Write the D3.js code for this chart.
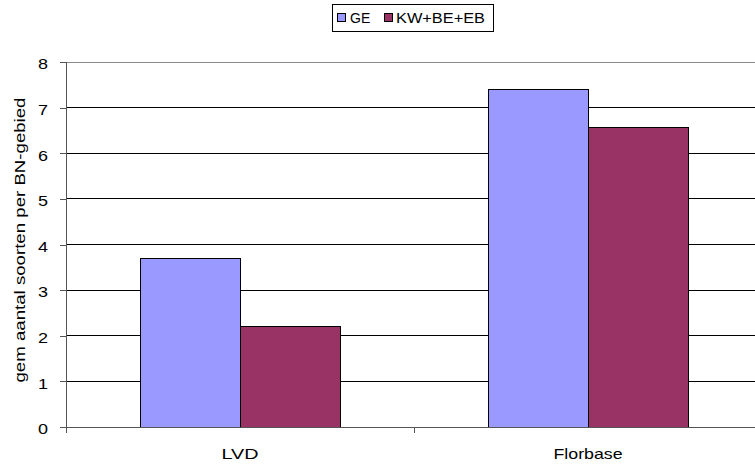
<html>
<script src='https://d3js.org/d3.v7.min.js'></script>
<style>
body {margin:0; background:#fff;}
text {font-family: "Liberation Sans", Arial, sans-serif; fill:#000;}
</style>
<body onload='init()'>
<svg width=755 height=465></svg>
<script>
// chart data
const categories = ["LVD", "Florbase"];
const seriesNames = ["GE", "KW+BE+EB"];
const geValues = [3.7, 7.4];
const kwValues = [2.2, 6.56];
const yTicks = [0, 1, 2, 3, 4, 5, 6, 7, 8];
const yLabel = "gem aantal soorten per BN-gebied";

function init() {
const svg = d3.select("svg");
const colors = d3.scaleOrdinal().domain(seriesNames).range(["#9999ff", "#993366"]);

// x scale for categories, inner scale for the two series
var x = d3.scaleBand().domain(categories).range([66, 762]);
var xs = d3.scaleBand().domain(seriesNames).range([140, 340]);
// y scale
var y = d3.scaleLinear().domain([0, 8]).range([427, 62]);

// gridlines
svg.append("g")
  .selectAll("line")
  .data(yTicks.slice(1))
  .enter()
  .append("line")
    .attr("x1", 66).attr("x2", 755)
    .attr("y1", d => y(d)).attr("y2", d => y(d))
    .attr("stroke", d => d == 8 ? "#888" : "#000")
    .attr("stroke-width", 1)
    .attr("shape-rendering", "crispEdges");

// bars
const rows = categories.map((c, i) => ({cat: c, vals: [geValues[i], kwValues[i]]}));
svg.append("g")
  .selectAll("g")
  .data(rows)
  .enter()
  .append("g")
    .attr("transform", d => "translate(" + (x(d.cat) - 66) + ",0)")
  .selectAll("rect")
  .data(d => d.vals.map((v, j) => ({s: seriesNames[j], v: v})))
  .enter()
  .append("rect")
    .attr("x", d => xs(d.s))
    .attr("width", xs.bandwidth())
    .attr("y", d => y(d.v))
    .attr("height", d => y(0) - y(d.v))
    .attr("fill", d => colors(d.s))
    .attr("stroke", "#000")
    .attr("stroke-width", 1)
    .attr("shape-rendering", "crispEdges");

// Y axis
var yAxis = svg.append("g")
  .attr("transform", "translate(66,0)")
  .call(d3.axisLeft(y).tickValues(yTicks).tickSize(6).tickPadding(12).tickFormat(d3.format("d")));
yAxis.select(".domain").attr("stroke", "#555").attr("shape-rendering", "crispEdges");
yAxis.selectAll(".tick line").attr("stroke", "#555").attr("shape-rendering", "crispEdges");
yAxis.selectAll("text")
  .style("font-size", "15px").attr("fill", "#000")
  .attr("dy", "0.45em")
  .attr("textLength", 10).attr("lengthAdjust", "spacingAndGlyphs");

// X axis
var xAxis = svg.append("g")
  .attr("transform", "translate(0,427)")
  .call(d3.axisBottom(x).tickSize(0));
xAxis.select(".domain").attr("stroke", "#555").attr("shape-rendering", "crispEdges");
xAxis.selectAll("text")
  .style("font-size", "15px").attr("fill", "#000")
  .attr("y", 32).attr("dy", 0)
  .attr("x", 0)
  .attr("textLength", d => d == "LVD" ? 37 : 69)
  .attr("lengthAdjust", "spacingAndGlyphs");
// category separator ticks
xAxis.selectAll(".sep")
  .data(categories)
  .enter()
  .append("line")
    .attr("class", "sep")
    .attr("x1", d => x(d)).attr("x2", d => x(d))
    .attr("y1", 0).attr("y2", 6)
    .attr("stroke", "#555")
    .attr("shape-rendering", "crispEdges");

// y label
svg.append("text")
  .attr("transform", "translate(25,240) rotate(-90)")
  .attr("text-anchor", "middle")
  .style("font-size", "15px")
  .attr("textLength", 285).attr("lengthAdjust", "spacingAndGlyphs")
  .text(yLabel);

// legend
var lg = svg.append("g");
lg.append("rect")
  .attr("x", 332.5).attr("y", 4.5).attr("width", 161).attr("height", 27)
  .attr("fill", "#fff").attr("stroke", "#000");
var items = lg.selectAll("g")
  .data(seriesNames)
  .enter()
  .append("g")
    .attr("transform", (d, i) => "translate(" + (i == 0 ? 337 : 384) + ",13)");
items.append("rect")
  .attr("x", 0.5).attr("y", 0.5).attr("width", 8).attr("height", 8)
  .attr("fill", d => colors(d)).attr("stroke", "#000");
items.append("text")
  .attr("x", d => d == "GE" ? 13 : 12).attr("y", 10)
  .style("font-size", "14px")
  .attr("textLength", d => d == "GE" ? null : 89)
  .attr("lengthAdjust", "spacingAndGlyphs")
  .text(d => d);
}
</script>
</body>
</html>
